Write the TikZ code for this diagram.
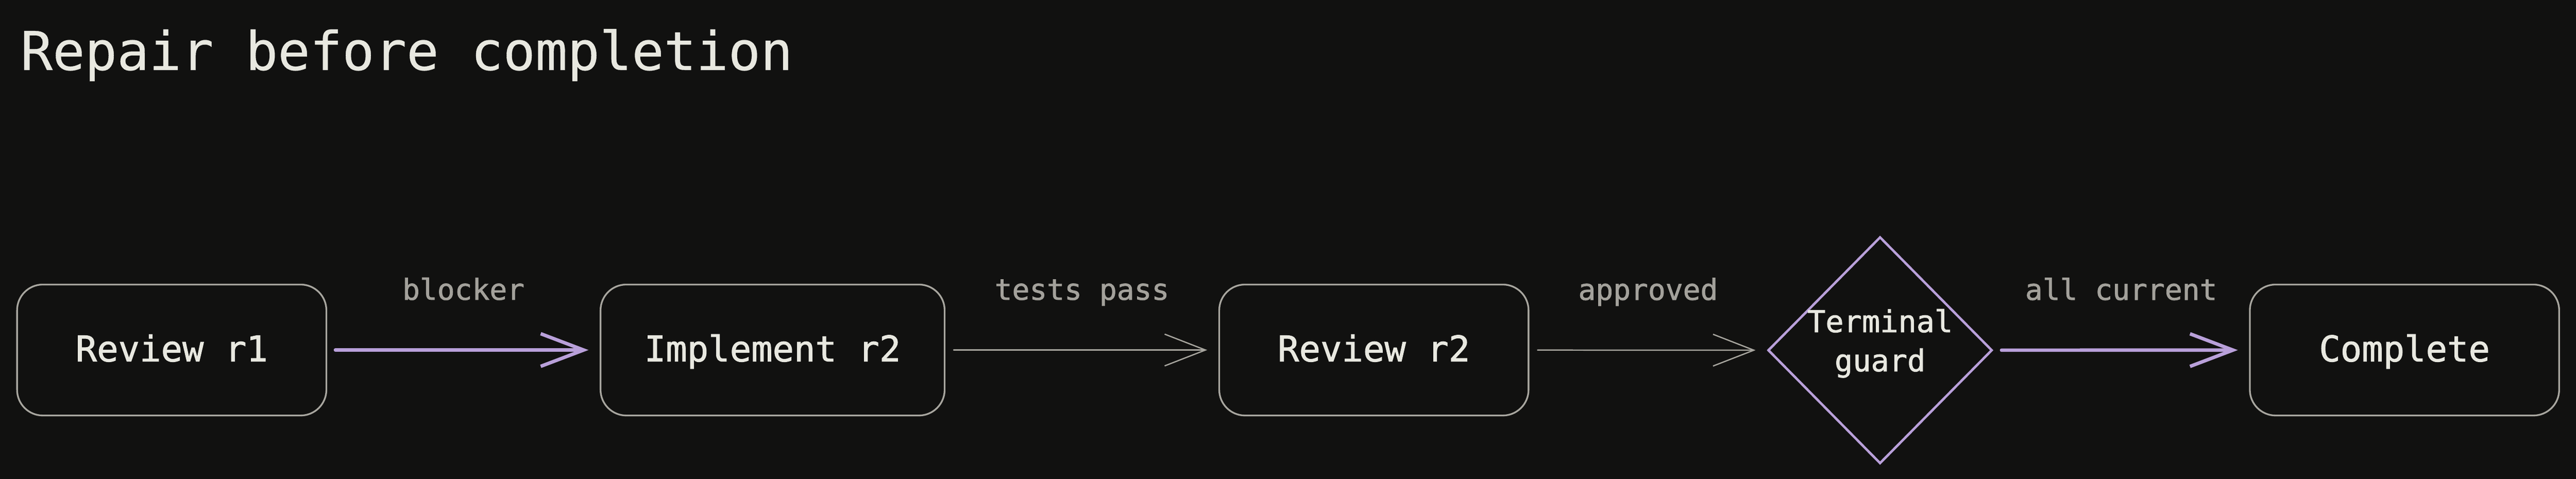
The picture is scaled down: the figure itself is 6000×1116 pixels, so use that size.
\documentclass[tikz,border=0pt]{standalone}
\usepackage{fontspec}
\setmonofont{DejaVu Sans Mono}
\newfontfamily\medmono[FakeBold=1.4]{DejaVu Sans Mono}
\newfontfamily\titlemono[FakeBold=0.4]{DejaVu Sans Mono}
\usetikzlibrary{shapes.geometric,arrows.meta}
\definecolor{bg}{HTML}{111110}
\definecolor{txt}{HTML}{E8E8E0}
\definecolor{boxline}{HTML}{A8A69F}
\definecolor{labtxt}{HTML}{A3A19B}
\definecolor{purp}{HTML}{B9A0DA}
\begin{document}
\begin{tikzpicture}[x=0.01cm,y=-0.01cm,
  stepbox/.style={draw=boxline, line width=1.14pt, fill=bg, rounded corners=0.6cm,
    minimum width=7.2cm, minimum height=3.05cm, inner sep=0pt, text=txt,
    text height=0.70cm, text depth=0.17cm,
    font=\medmono\fontsize{23.5}{28}\selectfont},
  guard/.style={diamond, aspect=1, draw=purp, line width=1.6pt, fill=bg,
    minimum width=5.22cm, minimum height=5.28cm, inner sep=0pt, align=center,
    text=txt, text height=1.305cm, text depth=0.325cm,
    font=\medmono\fontsize{20}{25.9}\selectfont},
  lab/.style={midway, anchor=base, yshift=1.17cm, inner sep=0pt, text=labtxt,
    font=\medmono\fontsize{19.2}{23}\selectfont},
  flowp/.style={draw=purp, line width=2.28pt, line cap=round,
    -{Straight Barb[length=1cm,width=0.76cm]}, shorten <=0.19cm, shorten >=0.26cm},
  flowg/.style={draw=boxline, line width=0.85pt, line cap=round,
    -{Straight Barb[length=0.95cm,width=0.74cm]}, shorten <=0.19cm, shorten >=0.26cm},
  titlestyle/.style={anchor=base west, inner sep=0pt, text=txt,
    font=\titlemono\fontsize{35.4}{42}\selectfont}
]
\fill[bg] (0,0) rectangle (6000,1116);
\useasboundingbox (0,0) rectangle (6000,1116);

\node[titlestyle] (title) at (47,163) {Repair before completion};

\node[stepbox] (r1) at (400,815.5) {Review r1};
\node[stepbox, minimum width=8.01cm] (i2) at (1799.5,815.5) {Implement r2};
\node[stepbox] (r2) at (3200,815.5) {Review r2};
\node[guard] (tg) at (4379,816) {Terminal\\guard};
\node[stepbox] (done) at (5600.5,815.5) {Complete};

\draw[flowp] (r1) -- node[lab] {blocker} (i2);
\draw[flowg] (i2) -- node[lab] {tests pass} (r2);
\draw[flowg] (r2) -- node[lab] {approved} (tg);
\draw[flowp] (tg) -- node[lab] {all current} (done);
\end{tikzpicture}
\end{document}
